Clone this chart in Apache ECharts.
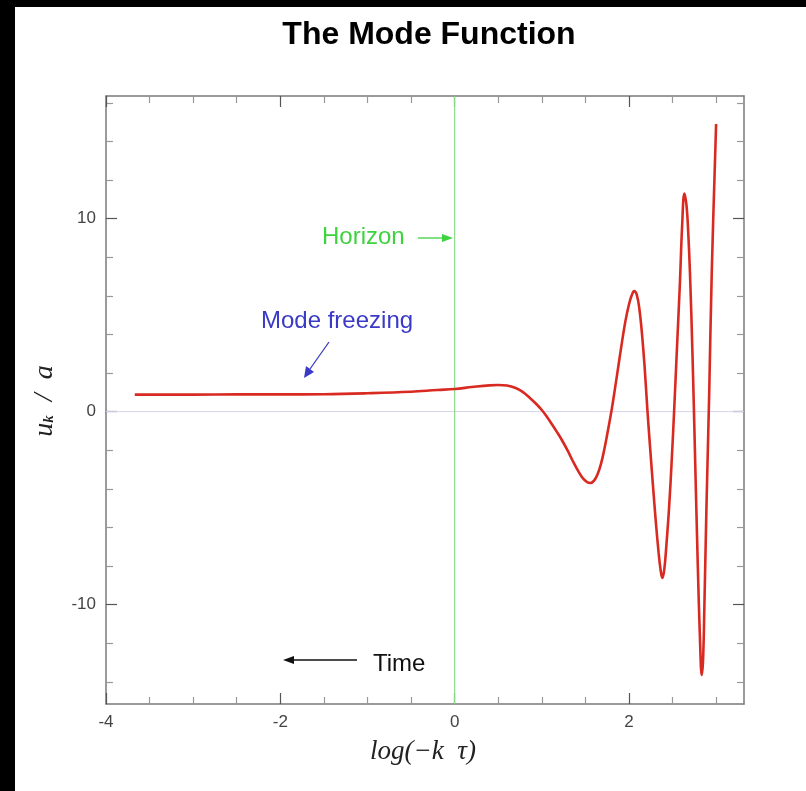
<!DOCTYPE html>
<html>
<head>
<meta charset="utf-8">
<script src="https://cdn.jsdelivr.net/npm/echarts@6/dist/echarts.min.js"></script>
<style>
  html, body { margin: 0; padding: 0; background: #fff; }
  #chart { width: 806px; height: 791px; }
</style>
</head>
<body>
<div id="chart"></div>
<script>
// Mode function u_k / a against log(-k tau)
const logKTau = [
  -3.67, -3.0, -2.5, -2.0, -1.5, -1.0, -0.5, -0.2, 0.0, 0.2, 0.4, 0.5, 0.6, 0.7, 0.78, 0.86, 0.94,
  1.0, 1.06, 1.12, 1.18, 1.24, 1.30, 1.36, 1.42, 1.47, 1.52, 1.56, 1.60, 1.64, 1.68, 1.72, 1.76,
  1.80, 1.84, 1.88, 1.92, 1.96, 2.0, 2.03, 2.06, 2.09, 2.12, 2.15, 2.18, 2.21, 2.24, 2.28,
  2.31, 2.34, 2.36, 2.383, 2.405, 2.43, 2.46, 2.49, 2.52, 2.55, 2.585, 2.61, 2.636, 2.66, 2.68, 2.70,
  2.73, 2.76, 2.79, 2.815, 2.835, 2.85, 2.865, 2.89, 2.92, 2.95, 3.0
];
const modeAmp = [
  0.88, 0.88, 0.89, 0.89, 0.90, 0.95, 1.03, 1.12, 1.17, 1.27, 1.36, 1.38, 1.35, 1.22, 1.02, 0.72, 0.38,
  0.08, -0.28, -0.68, -1.10, -1.55, -2.05, -2.60, -3.10, -3.45, -3.65, -3.70, -3.58, -3.25, -2.70, -1.90, -0.95,
  0.05, 1.20, 2.40, 3.60, 4.70, 5.55, 6.00, 6.24, 6.05, 5.30, 4.00, 2.30, 0.20, -1.70, -4.10,
  -5.80, -7.30, -8.10, -8.62, -8.20, -6.90, -5.00, -2.60, 0.20, 3.20, 6.70, 9.60, 11.30, 10.70, 9.30, 7.20,
  2.80, -2.60, -8.00, -11.80, -13.65, -12.90, -10.20, -4.80, 0.80, 7.20, 14.9
];

const xRange = [-4, 3.32];
const yRange = [-15.15, 16.35];
const xMajorTicks = [-4, -2, 0, 2];
const xMinorTicks = [-3.5, -3, -2.5, -1.5, -1, -0.5, 0.5, 1, 1.5, 2.5, 3];
const yMajorTicks = [-10, 0, 10];
const yMinorTicks = [-14, -12, -8, -6, -4, -2, 2, 4, 6, 8, 12, 14, 16];
const horizonX = 0;
const zeroLevel = 0;

const SANS = 'Liberation Sans, Arial, sans-serif';
const SERIF = 'Liberation Serif, Times New Roman, serif';

function makeAxis(dim, position, ticks, len, tickColor, withLabels, withLine) {
  const range = dim === 'x' ? xRange : yRange;
  return {
    type: 'value',
    position: position,
    min: range[0],
    max: range[1],
    axisLine: { show: withLine, onZero: false, lineStyle: { color: '#7a7a7a', width: 1.5 } },
    axisTick: { show: true, inside: true, length: len, customValues: ticks,
                lineStyle: { color: tickColor, width: 1.2 } },
    axisLabel: withLabels ? {
      show: true, customValues: ticks, color: '#444', fontSize: 17, fontFamily: SANS,
      margin: 10
    } : { show: false },
    splitLine: { show: false },
    minorTick: { show: false }
  };
}

const chart = echarts.init(document.getElementById('chart'));

const curve = logKTau.map((x, i) => [x, modeAmp[i]]);

chart.setOption({
  backgroundColor: '#ffffff',
  animation: false,
  grid: { left: 106, right: 62, top: 96, bottom: 87, containLabel: false },
  xAxis: [
    makeAxis('x', 'bottom', xMajorTicks, 11, '#555', true, true),
    makeAxis('x', 'bottom', xMinorTicks, 7, '#999', false, false),
    makeAxis('x', 'top', xMajorTicks, 11, '#555', false, true),
    makeAxis('x', 'top', xMinorTicks, 7, '#999', false, false)
  ],
  yAxis: [
    makeAxis('y', 'left', yMajorTicks, 11, '#555', true, true),
    makeAxis('y', 'left', yMinorTicks, 7, '#999', false, false),
    makeAxis('y', 'right', yMajorTicks, 11, '#555', false, true),
    makeAxis('y', 'right', yMinorTicks, 7, '#999', false, false)
  ],
  series: [
    {
      name: 'zero', type: 'line', silent: true, symbol: 'none', z: 1,
      data: [[xRange[0], zeroLevel], [xRange[1], zeroLevel]],
      lineStyle: { color: '#d4d4ec', width: 1 }
    },
    {
      name: 'horizon', type: 'line', silent: true, symbol: 'none', z: 1,
      data: [[horizonX, yRange[0]], [horizonX, yRange[1]]],
      lineStyle: { color: '#8fdb8f', width: 1.2 }
    },
    {
      name: 'mode', type: 'line', symbol: 'none', smooth: 0.4, z: 3, clip: true,
      data: curve,
      lineStyle: { color: '#d92a22', width: 2.6 }
    }
  ],
  graphic: [
    // dark edge strips
    { type: 'rect', left: 0, top: 0, shape: { width: 15, height: 791 }, style: { fill: '#000' }, z: 100 },
    { type: 'rect', left: 0, top: 0, shape: { width: 806, height: 7 }, style: { fill: '#000' }, z: 100 },
    // title
    { type: 'text', x: 429, y: 35, style: { text: 'The Mode Function', fontSize: 32, fontWeight: 'bold',
      fontFamily: SANS, fill: '#000', align: 'center', verticalAlign: 'middle' } },
    // axis titles
    { type: 'text', x: 423, y: 752, style: { text: 'log(\u2212k  \u03c4)', fontSize: 27, fontStyle: 'italic',
      fontFamily: SERIF, fill: '#222', align: 'center', verticalAlign: 'middle' } },
    { type: 'text', x: 45, y: 401, rotation: Math.PI / 2, style: {
      text: '{u|u}{k|k}{r|  /  a}', align: 'center', verticalAlign: 'middle',
      rich: {
        u: { fontSize: 28, fontStyle: 'italic', fontFamily: SERIF, fill: '#222' },
        k: { fontSize: 15, fontStyle: 'italic', fontWeight: 'bold', fontFamily: SERIF, fill: '#222', padding: [9, 0, 0, 0] },
        r: { fontSize: 28, fontStyle: 'italic', fontFamily: SERIF, fill: '#222' }
      } } },
    // Horizon annotation
    { type: 'text', x: 322, y: 237, style: { text: 'Horizon', fontSize: 24, fontFamily: SANS, fill: '#3fd23f',
      align: 'left', verticalAlign: 'middle' } },
    { type: 'line', shape: { x1: 418, y1: 238, x2: 444, y2: 238 }, style: { stroke: '#3fd23f', lineWidth: 1.3 } },
    { type: 'polygon', shape: { points: [[453, 238], [442, 234], [442, 242]] }, style: { fill: '#3fd23f' } },
    // Mode freezing annotation
    { type: 'text', x: 261, y: 321, style: { text: 'Mode freezing', fontSize: 24, fontFamily: SANS, fill: '#3a3ac6',
      align: 'left', verticalAlign: 'middle' } },
    { type: 'line', shape: { x1: 329, y1: 342, x2: 310, y2: 369 }, style: { stroke: '#3a3ac6', lineWidth: 1.3 } },
    { type: 'polygon', shape: { points: [[304, 378], [306, 366], [314, 372]] }, style: { fill: '#3a3ac6' } },
    // Time annotation
    { type: 'text', x: 373, y: 664, style: { text: 'Time', fontSize: 24, fontFamily: SANS, fill: '#111',
      align: 'left', verticalAlign: 'middle' } },
    { type: 'line', shape: { x1: 357, y1: 660, x2: 292, y2: 660 }, style: { stroke: '#111', lineWidth: 1.3 } },
    { type: 'polygon', shape: { points: [[283, 660], [294, 656], [294, 664]] }, style: { fill: '#111' } }
  ]
});
</script>
</body>
</html>
